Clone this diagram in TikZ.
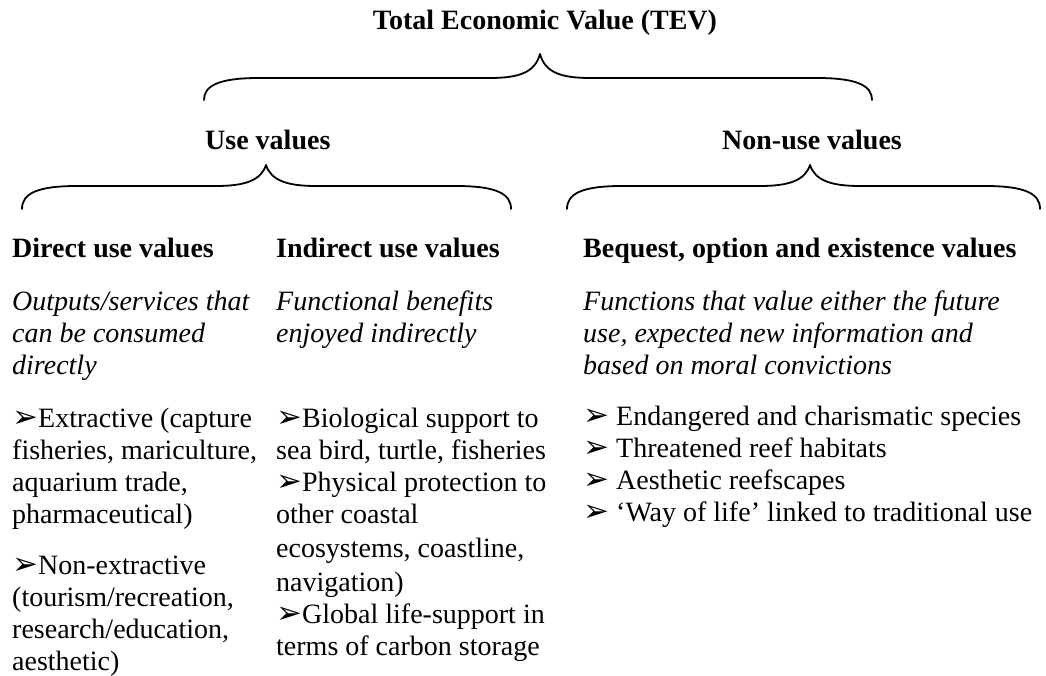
\documentclass[tikz,border=0pt]{standalone}
\usepackage{fontspec}
\setmainfont{Liberation Serif}
\newfontfamily\dvfont{DejaVu Sans}
\newcommand\arr{{\dvfont\fontsize{31}{31}\selectfont\raisebox{-0.5pt}{➢}}}
\newcommand\curlybr[6]{%
\draw[br] (#1,#4) .. controls (#1,#5+8) and (#1+14,#5) .. (#1+55,#5) -- (#3-50,#5) .. controls (#3-20,#5) and (#3-5,#5-6) .. (#3,#6) .. controls (#3+5,#5-6) and (#3+20,#5) .. (#3+50,#5) -- (#2-55,#5) .. controls (#2-14,#5) and (#2,#5+8) .. (#2,#4);}
\begin{document}
\begin{tikzpicture}[x=1pt,y=-1pt,
  txt/.style={inner sep=0pt, font=\fontsize{28}{32}\selectfont, align=left, anchor=north west},
  itx/.style={txt, font=\fontsize{28}{32}\selectfont\itshape},
  hd/.style={inner sep=0pt, font=\fontsize{28}{32}\selectfont\bfseries, anchor=base west},
  br/.style={line width=1.8pt, line cap=round, line join=round}]
\useasboundingbox (0,0) rectangle (1046,676);
% titles
\node[hd, anchor=base] (tev) at (545,30) {Total Economic Value (TEV)};
\node[hd] (use) at (205,150) {Use values};
\node[hd] (nonuse) at (722,150) {Non-use values};
\node[hd] (direct) at (12,258) {Direct use values};
\node[hd] (indirect) at (276,258) {Indirect use values};
\node[hd] (beq) at (583,258) {Bequest, option and existence values};
% braces
\curlybr{204}{872}{540}{100}{78}{54}
\curlybr{22}{511}{266}{209}{186}{165}
\curlybr{567}{1040}{810}{209}{186}{165}
% descriptions
\node[itx] (ddesc) at (12,287.6) {\strut Outputs/services that\\can be consumed\\directly};
\node[itx] (idesc) at (276,287.6) {\strut Functional benefits\\enjoyed indirectly};
\node[itx] (bdesc) at (583,287.6) {\strut Functions that value either the future\\use, expected new information and\\based on moral convictions};
% bullets
\node[txt] (dext) at (12,404.6) {\strut\arr Extractive (capture\\fisheries, mariculture,\\aquarium trade,\\pharmaceutical)};
\node[txt] (dnon) at (12,551.6) {\strut\arr Non-extractive\\(tourism/recreation,\\research/education,\\aesthetic)};
\node[txt] (ibul) at (276,404.6) {\strut\arr Biological support to\\sea bird, turtle, fisheries\\\arr Physical protection to\\other coastal\\[2pt]ecosystems, coastline,\\[2pt]navigation)\\\arr Global life-support in\\terms of carbon storage};
\node[txt] (bbul) at (583,402.6) {\strut\arr\ Endangered and charismatic species\\\arr\ Threatened reef habitats\\\arr\ Aesthetic reefscapes\\\arr\ ‘Way of life’ linked to traditional use};
\end{tikzpicture}
\end{document}
